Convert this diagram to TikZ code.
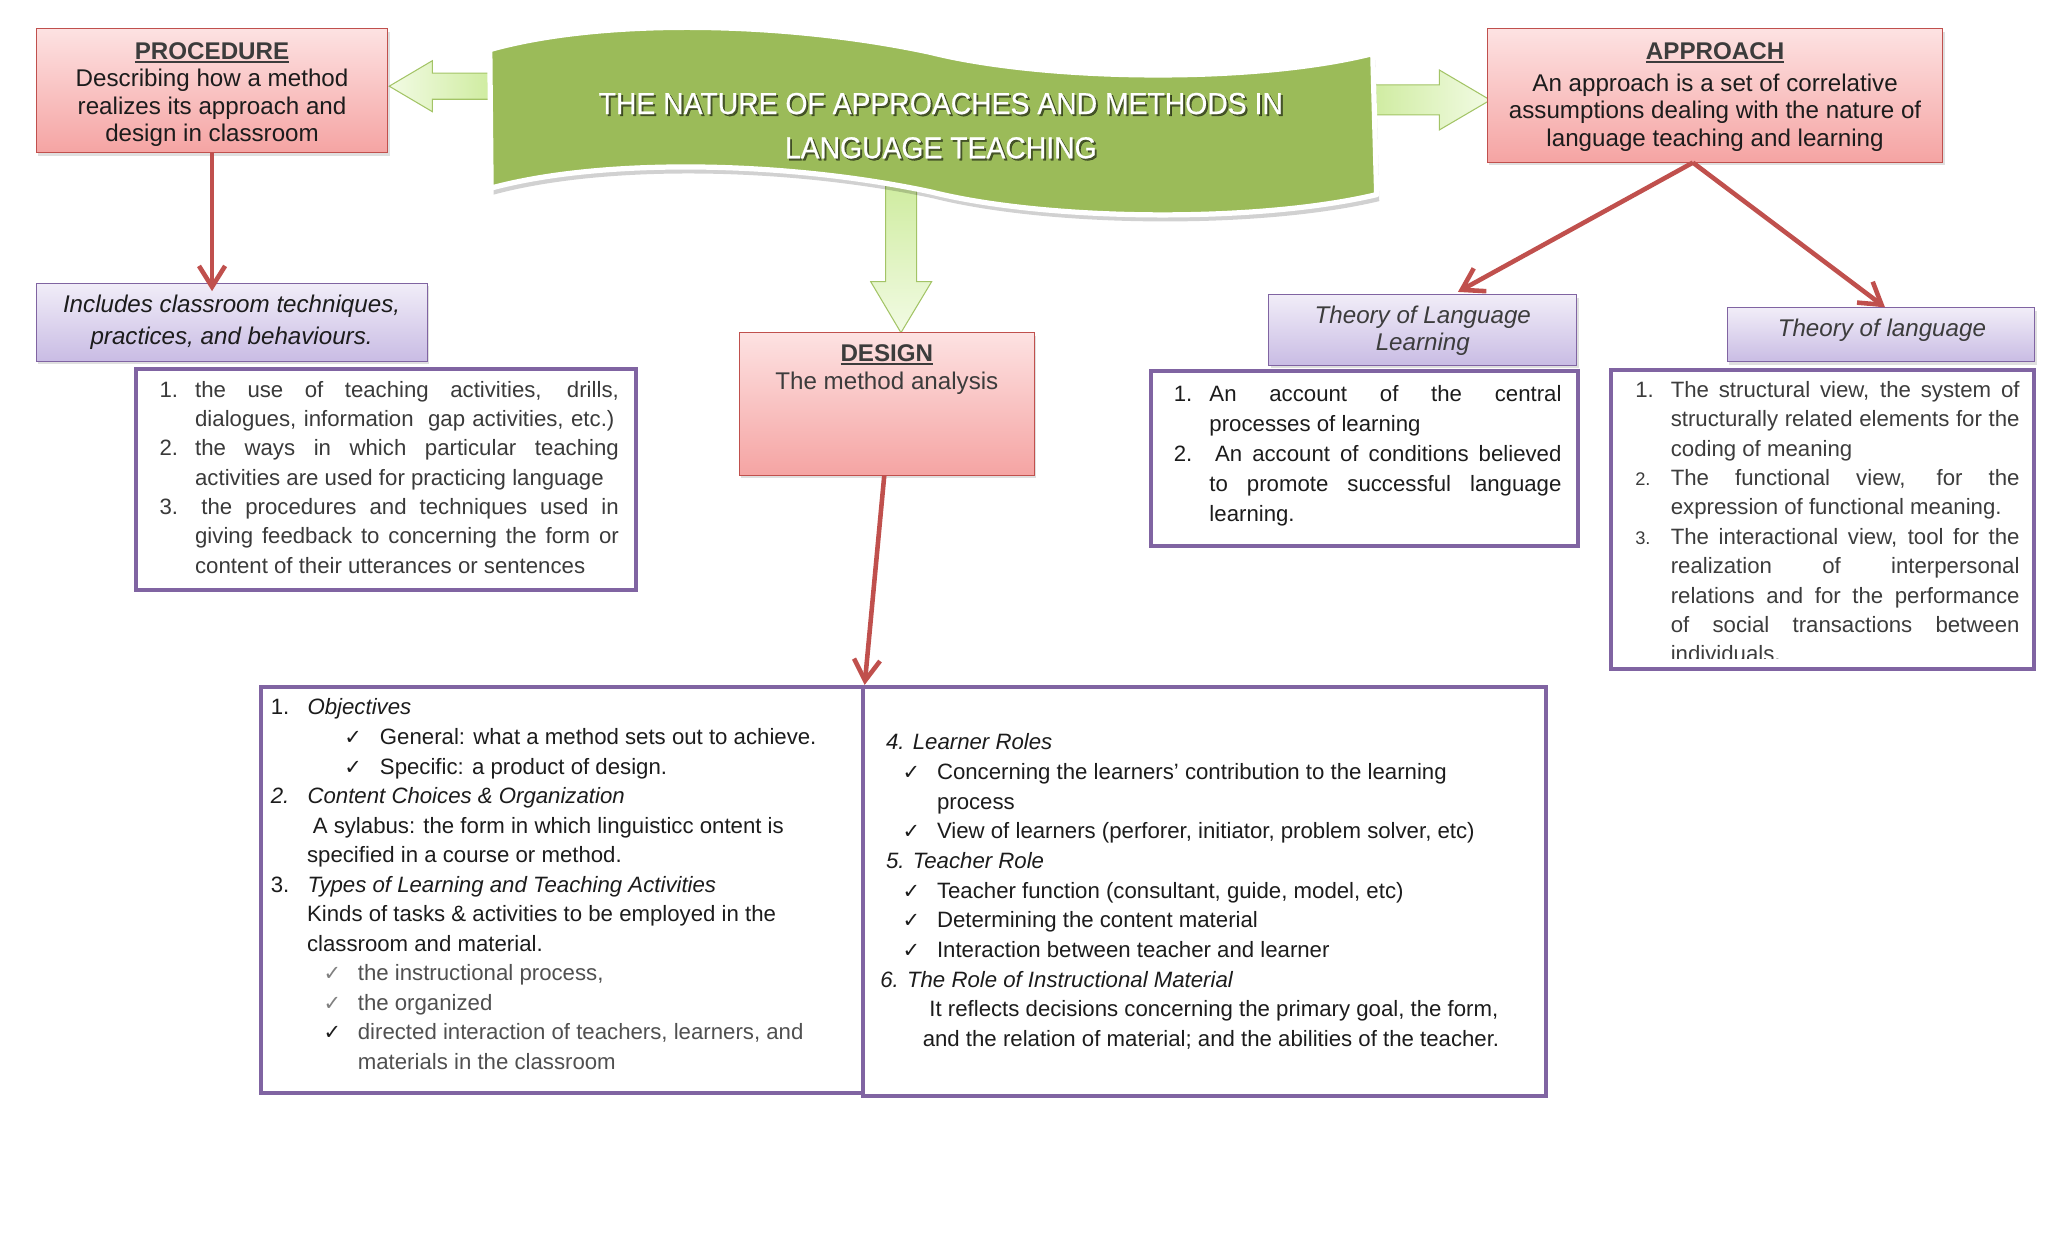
\documentclass[tikz,border=0pt]{standalone}
\usepackage{fontspec}
\setmainfont{Liberation Sans}
\newfontfamily\dejavu{DejaVu Sans}
\newfontfamily\titlefont[FakeBold=0.6]{Liberation Sans}
\usepackage{graphicx}
\usetikzlibrary{arrows.meta,shadows,fit}

\definecolor{boxred}{HTML}{C0504D}
\definecolor{pinktop}{HTML}{FDE2E2}
\definecolor{pinkbot}{HTML}{F5A4A3}
\definecolor{lavtop}{HTML}{F1EDF8}
\definecolor{lavbot}{HTML}{C9BCE4}
\definecolor{purp}{HTML}{8064A2}
\definecolor{bannergreen}{HTML}{9BBB59}
\definecolor{greenedge}{HTML}{A3C466}
\definecolor{glight}{HTML}{F2FBE4}
\definecolor{gdark}{HTML}{CDEB9C}
\definecolor{txtblack}{HTML}{1C1C1C}
\definecolor{hdrgrey}{HTML}{3C3C3C}
\definecolor{ptxt}{HTML}{3A3A3A}
\definecolor{greytxt}{HTML}{505050}

\newcommand{\ulx}[1]{\setbox0\hbox{#1}\rlap{\rule[-2.6pt]{\wd0}{1.4pt}}\box0}
\newcommand{\cvt}[1]{\vtop{\halign{\hfil##\hfil\cr#1\crcr}}}
\newcommand{\LN}[2]{\hbox{\hspace*{#1pt}#2}}
\newcommand{\NB}[2]{\makebox[#1pt][l]{#2}}
\newcommand{\JF}[2]{\makebox[#1pt][s]{#2}}
\newcommand{\ck}{{\dejavu\fontsize{16}{16}\selectfont ✓}}
\newcommand{\smn}[1]{{\fontsize{14}{14}\selectfont #1}}

\begin{document}
\begin{tikzpicture}[x=1pt,y=-1pt,
  pinkbox/.style={draw=boxred, line width=0.8pt, top color=pinktop, bottom color=pinkbot, inner sep=0pt,
    drop shadow={shadow xshift=1.5pt, shadow yshift=-2.5pt, opacity=0.25}},
  lavbox/.style={draw=purp, line width=0.8pt, top color=lavtop, bottom color=lavbot, inner sep=0pt,
    drop shadow={shadow xshift=1.5pt, shadow yshift=-2.5pt, opacity=0.25}},
  listbox/.style={draw=purp, line width=3pt, fill=white, inner sep=0pt},
  hdrtxt/.style={inner sep=0pt, anchor=base, text=txtblack, font={\fontsize{18.5}{21}\selectfont}},
  listtxt/.style={inner sep=0pt, anchor=base west, text=txtblack},
  redarrow/.style={draw=boxred, line width=3.5pt, -{Straight Barb[length=16pt,width=20pt]}},
  greenarrow/.style={draw=greenedge, line width=0.8pt},
  titletxt/.style={inner sep=0pt, anchor=base, font={\titlefont\fontsize{23.2}{33.9}\selectfont}},
]
\useasboundingbox (0,0) rectangle (1568,951.7);
\fill[white] (0,0) rectangle (1568,951.7);

% green block arrows (under the banner)
\shade[greenarrow, left color=glight, right color=gdark]
  (298,66) -- (331,46.5) -- (331,56) -- (380,56) -- (380,76) -- (331,76) -- (331,85.5) -- cycle;
\shade[greenarrow, left color=gdark, right color=glight]
  (1045,65) -- (1102,65) -- (1102,53.6) -- (1141,76.6) -- (1102,99.5) -- (1102,88) -- (1045,88) -- cycle;
\shade[greenarrow, top color=gdark, bottom color=glight]
  (678.1,135) -- (701.8,135) -- (701.8,215.6) -- (713.3,215.6) -- (689.8,254.7) -- (666.6,215.6) -- (678.1,215.6) -- cycle;

% banner
\begin{scope}[shift={(2,5)}]
\fill[black, opacity=0.18] (375,38) .. controls (460,14) and (600,16) .. (712,40)
  .. controls (800,62) and (960,64) .. (1051,41) -- (1054,149)
  .. controls (961,171) and (801,169) .. (713,147)
  .. controls (601,123) and (461,121) .. (376,144) -- cycle;
\end{scope}
\draw[white, line width=4pt, fill=bannergreen, line join=round] (375,38) .. controls (460,14) and (600,16) .. (712,40)
  .. controls (800,62) and (960,64) .. (1051,41) -- (1054,149)
  .. controls (961,171) and (801,169) .. (713,147)
  .. controls (601,123) and (461,121) .. (376,144) -- cycle;

\node[titletxt, text=black, opacity=0.55] (titleshadow) at (721.8,88.8)
  {\cvt{\scalebox{0.935}[1]{THE NATURE OF APPROACHES AND METHODS IN}\cr\scalebox{0.935}[1]{LANGUAGE TEACHING}}};
\node[titletxt, text=white] (title) at (720.3,87.3)
  {\cvt{\scalebox{0.935}[1]{THE NATURE OF APPROACHES AND METHODS IN}\cr\scalebox{0.935}[1]{LANGUAGE TEACHING}}};

% boxes
\node[pinkbox, fit={(27.7,22.1) (297,117)}] (proc) {};
\node[pinkbox, fit={(1138.7,22.1) (1487.5,124.1)}] (appr) {};
\node[pinkbox, fit={(566.2,254.4) (791.8,363.8)}] (design) {};
\node[lavbox, fit={(27.7,216.8) (327,276.5)}] (inc) {};
\node[lavbox, fit={(971.4,225.4) (1207.1,279.6)}] (tll) {};
\node[lavbox, fit={(1322.4,235.7) (1558,277)}] (tl) {};
\node[listbox, fit={(104.4,282.2) (486.7,451.5)}] (plist) {};
\node[listbox, fit={(881.1,284.3) (1207.8,418.3)}] (tllbox) {};
\node[listbox, fit={(1233.5,283) (1557.3,512.2)}] (tlbox) {};
\node[listbox, fit={(199.6,525.9) (660.5,836.8)}] (objbox) {};
\node[listbox, fit={(660.5,525.9) (1183.3,839.4)}] (rolebox) {};

% header texts
\node[hdrtxt] (proctxt) at (162.35,45.4)
  {\cvt{{\color{hdrgrey}\ulx{\textbf{PROCEDURE}}}\cr Describing how a method\cr realizes its approach and\cr design in classroom}};
\node[hdrtxt, font={\fontsize{18.5}{21.3}\selectfont}] (apprtxt) at (1313.1,45.4)
  {\cvt{{\color{hdrgrey}\ulx{\textbf{APPROACH}}}\cr\noalign{\vskip3pt}An approach is a set of correlative\cr assumptions dealing with the nature of\cr language teaching and learning}};
\node[hdrtxt, text=hdrgrey, font={\fontsize{18.5}{21.1}\selectfont}] (designtxt) at (679,276.9)
  {\cvt{\ulx{\textbf{DESIGN}}\cr The method analysis}};
\node[hdrtxt, font={\fontsize{18.5}{24}\selectfont\itshape}] (inctxt) at (177.3,239.4)
  {\cvt{Includes classroom techniques,\cr practices, and behaviours.}};
\node[hdrtxt, text=hdrgrey, font={\fontsize{18.5}{20.5}\selectfont\itshape}] (tlltxt) at (1089.3,247.5)
  {\cvt{Theory of Language\cr Learning}};
\node[hdrtxt, text=hdrgrey, font={\fontsize{18.5}{20.5}\selectfont\itshape}] (tltxt) at (1440.8,257.8)
  {Theory of language};

% procedure list
\node[listtxt, text=ptxt, font={\fontsize{17}{22.45}\selectfont}] (plisttxt) at (122,304.2) {\vtop{
\LN{0}{\NB{27.2}{1.}\JF{324.4}{the use of teaching activities, drills,}}
\LN{27.2}{\JF{321}{dialogues, information\ \ gap activities, etc.)}}
\LN{0}{\NB{27.2}{2.}\JF{324.4}{the ways in which particular teaching}}
\LN{27.2}{activities are used for practicing language}
\LN{0}{\NB{32}{3.}\JF{319.6}{the procedures and techniques used in}}
\LN{27.2}{\JF{324.4}{giving feedback to concerning the form or}}
\LN{27.2}{content of their utterances or sentences}
}};

% theory of language learning list
\node[listtxt, font={\fontsize{17}{23}\selectfont}] (tlltxtlist) at (898.5,307.5) {\vtop{
\LN{0}{\NB{27.3}{1.}\JF{269.5}{An account of the central}}
\LN{27.3}{processes of learning}
\LN{0}{\NB{31.6}{2.}\JF{265.2}{An account of conditions believed}}
\LN{27.3}{\JF{269.5}{to promote successful language}}
\LN{27.3}{learning.}
}};

% theory of language list (clipped)
\begin{scope}
\clip (1233,283) rectangle (1557,504);
\node[listtxt, text=hdrgrey, font={\fontsize{17}{22.5}\selectfont}] (tltxtlist) at (1251.8,304.2) {\vtop{
\LN{0}{\NB{27.2}{1.}\JF{267}{The structural view, the system of}}
\LN{27.2}{\JF{267}{structurally related elements for the}}
\LN{27.2}{coding of meaning}
\LN{0}{\NB{27.2}{\smn{2.}}\JF{267}{The functional view, for the}}
\LN{27.2}{expression of functional meaning.}
\LN{0}{\NB{27.2}{\smn{3.}}\JF{267}{The interactional view, tool for the}}
\LN{27.2}{\JF{267}{realization of interpersonal}}
\LN{27.2}{\JF{267}{relations and for the performance}}
\LN{27.2}{\JF{267}{of social transactions between}}
\LN{27.2}{individuals.}
}};
\end{scope}

% design: left big box
\node[listtxt, font={\fontsize{17}{22.6}\selectfont}] (objtxt) at (207.2,547.4) {\vtop{
\LN{0}{\NB{28.1}{1.}\textit{Objectives}}
\LN{56.2}{\NB{27.3}{\ck}General: what a method sets out to achieve.}
\LN{56.2}{\NB{27.3}{\ck}Specific: a product of design.}
\LN{0}{\NB{28.1}{\textit{2.}}\textit{Content Choices \& Organization}}
\LN{32.1}{A sylabus: the form in which linguisticc ontent is}
\LN{27.7}{specified in a course or method.}
\LN{0}{\NB{28.1}{3.}\textit{Types of Learning and Teaching Activities}}
\LN{27.7}{Kinds of tasks \& activities to be employed in the}
\LN{27.7}{classroom and material.}
\LN{40.3}{\color{greytxt}\NB{26.3}{\color{gray}\ck}the instructional process,}
\LN{40.3}{\color{greytxt}\NB{26.3}{\color{gray}\ck}the organized}
\LN{40.3}{\color{greytxt}\NB{26.3}{\color{txtblack}\ck}directed interaction of teachers, learners, and}
\LN{66.6}{\color{greytxt}materials in the classroom}
}};

% design: right big box
\node[listtxt, font={\fontsize{17}{22.7}\selectfont}] (roletxt) at (673.8,574.2) {\vtop{
\LN{4.4}{\textit{4. Learner Roles}}
\LN{17.1}{\NB{26.3}{\ck}Concerning the learners' contribution to the learning}
\LN{43.4}{process}
\LN{17.1}{\NB{26.3}{\ck}View of learners (perforer, initiator, problem solver, etc)}
\LN{4.4}{\textit{5. Teacher Role}}
\LN{17.1}{\NB{26.3}{\ck}Teacher function (consultant, guide, model, etc)}
\LN{17.1}{\NB{26.3}{\ck}Determining the content material}
\LN{17.1}{\NB{26.3}{\ck}Interaction between teacher and learner}
\LN{0}{\textit{6. The Role of Instructional Material}}
\LN{37.6}{It reflects decisions concerning the primary goal, the form,}
\LN{32.5}{and the relation of material; and the abilities of the teacher.}
}};

% red connectors
\path (proc.south |- inc.north) ++(0,6.5) coordinate (procend);
\draw[redarrow] (proc.south) -- (procend);
\draw[redarrow] ([xshift=-2pt]design.south) -- (objbox.north east);
\draw[redarrow] ([xshift=-17pt]appr.south) -- ([xshift=27pt,yshift=1.5pt]tll.north);
\draw[redarrow] ([xshift=-17pt]appr.south) -- ([xshift=3pt]tl.north);
\end{tikzpicture}
\end{document}
